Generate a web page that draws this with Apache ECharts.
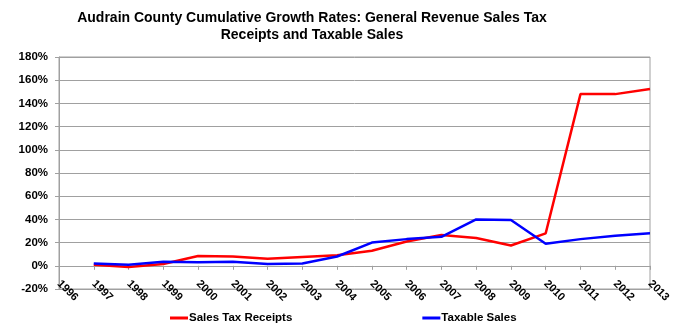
<!DOCTYPE html>
<html>
<head>
<meta charset="utf-8">
<script src="https://cdn.jsdelivr.net/npm/echarts@6/dist/echarts.min.js"></script>
<style>html,body{margin:0;padding:0;background:#fff}#c{width:680px;height:324px}</style>
</head>
<body>
<div id="c"></div>
<script>
var years = ['1996','1997','1998','1999','2000','2001','2002','2003','2004','2005','2006','2007','2008','2009','2010','2011','2012','2013'];
var salesTaxReceipts = [null, 1, -1, 1.5, 8.5, 8, 6, 7.5, 9, 13, 21, 26.5, 24, 17.5, 28, 148, 148, 152.5];
var taxableSales = [null, 2, 1, 3.5, 3, 3.5, 1.5, 2, 8, 20, 23, 25, 40, 39.5, 19, 23, 26, 28];
var seriesNames = ['Sales Tax Receipts', 'Taxable Sales'];
var titleText = 'Audrain County Cumulative Growth Rates: General Revenue Sales Tax\nReceipts and Taxable Sales';

var chart = echarts.init(document.getElementById('c'));
var font = 'Liberation Sans, Arial, sans-serif';
chart.setOption({
  animation: false,
  title: {
    text: titleText,
    left: 307, top: 5, textAlign: 'center',
    textStyle: {fontFamily: font, fontWeight: 'bold', fontSize: 14, color: '#000', lineHeight: 17}
  },
  legend: {
    left: 165, top: 307, itemGap: 130, itemWidth: 18, itemHeight: 3, icon: 'rect',
    textStyle: {fontFamily: font, fontWeight: 'bold', fontSize: 11.5, color: '#000', padding: [0,0,0,-4]},
    data: seriesNames
  },
  grid: {left: 59, right: 30, top: 57, bottom: 35, show: true, borderColor: '#a0a0a0', borderWidth: 1},
  xAxis: {
    type: 'category', data: years, boundaryGap: false,
    axisLine: {lineStyle: {color: '#a0a0a0'}},
    axisTick: {show: true, length: 4, lineStyle: {color: '#a0a0a0'}},
    axisLabel: {rotate: -45, margin: -7, interval: 0, fontFamily: font, fontWeight: 'bold', fontSize: 11, color: '#000'}
  },
  yAxis: {
    type: 'value', min: -20, max: 180, interval: 20,
    axisLine: {show: true, lineStyle: {color: '#a0a0a0'}},
    axisTick: {show: true, length: 4, lineStyle: {color: '#a0a0a0'}},
    splitLine: {lineStyle: {color: '#a0a0a0'}},
    axisLabel: {formatter: '{value}%', margin: 11, fontFamily: font, fontWeight: 'bold', fontSize: 11.5, color: '#000'}
  },
  series: [
    {name: seriesNames[0], type: 'line', data: salesTaxReceipts, symbol: 'none', lineStyle: {color: '#ff0000', width: 2.5}, itemStyle: {color: '#ff0000'}},
    {name: seriesNames[1], type: 'line', data: taxableSales, symbol: 'none', lineStyle: {color: '#0000ff', width: 2.5}, itemStyle: {color: '#0000ff'}}
  ]
});
</script>
</body>
</html>
